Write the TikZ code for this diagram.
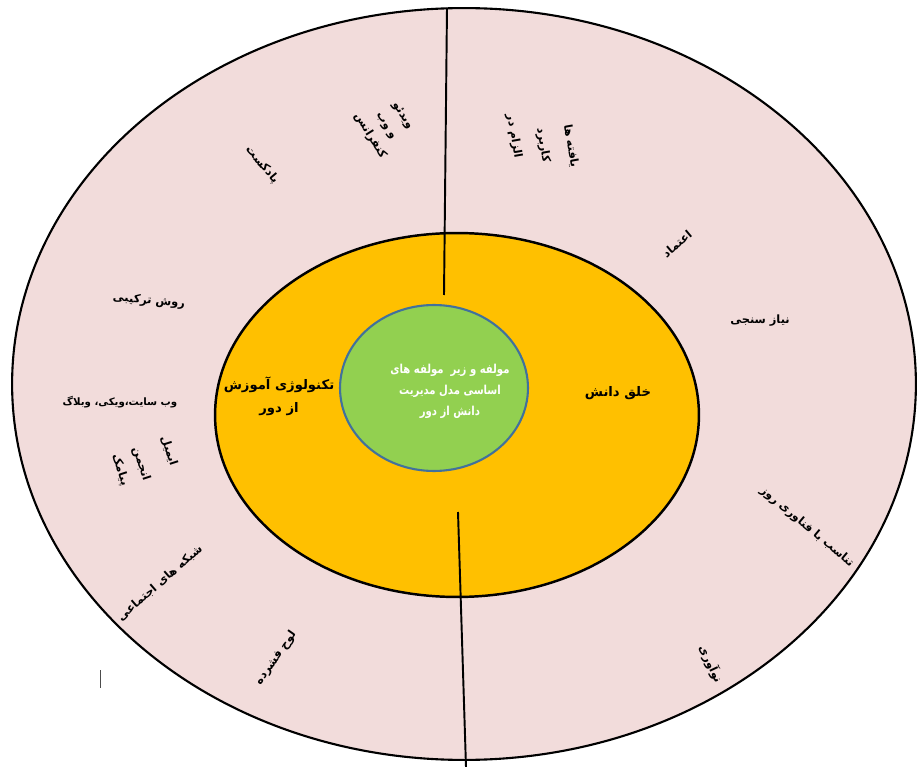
\documentclass[tikz,border=0pt]{standalone}
\usepackage{fontspec}
\usepackage{graphicx}
\usepackage{xcolor}
\usepackage{tikz}
\usetikzlibrary{shapes.geometric, positioning}
\TeXXeTstate=1
\newfontfamily\arabicfont[Script=Arabic]{DejaVu Sans}
\newcommand{\fa}[1]{{\arabicfont\beginR #1\endR}}
\newcommand{\fanarrow}[1]{\scalebox{0.82}[1]{\fa{#1}}}
\definecolor{ringpink}{HTML}{F2DCDB}
\definecolor{ringorange}{HTML}{FFC000}
\definecolor{coregreen}{HTML}{92D050}
\definecolor{coreblue}{HTML}{41719C}
\tikzset{
  % Rings
  ring/.style={ellipse, inner sep=0pt, draw=black, fill=#1},
  ring/.default={ringpink},
  % Labels
  midlbl/.style={font=\fontsize{7.5}{13}\selectfont\bfseries, align=center, text=black},
  corelbl/.style={font=\fontsize{7}{12}\selectfont\bfseries, align=center, text=white},
  toollbl/.style={font=\fontsize{6.5}{11}\selectfont\bfseries, align=center, text=black, inner sep=1pt},
  divider/.style={draw=black, line width=1.1pt},
}
\begin{document}
\begin{tikzpicture}[x=0.02cm, y=-0.02cm]
    \path[use as bounding box, fill=white] (0,0) rectangle (921,767);

    % Rings
    \node[ring, line width=1.2pt, minimum width=18.08cm, minimum height=15.04cm] (outer) at (464,384) {};
    \node[ring=ringorange, line width=1.4pt, minimum width=9.68cm, minimum height=7.28cm] (middle) at (457,415) {};
    \node[ring=coregreen, draw=coreblue, line width=1.2pt, minimum width=3.76cm, minimum height=3.32cm] (core) at (434,388) {};

    % Dividers
    \coordinate (topA) at (447,8);
    \coordinate (topB) at (444,295);
    \coordinate (botA) at (458,512);
    \coordinate (botB) at (466,767);
    \draw[divider] (topA) -- (topB);
    \draw[divider] (botA) -- (botB);

    % Core text
    \node[corelbl] (coretext) at (450,391) {\fanarrow{مولفه و زیر\ \ مولفه های}\\\fanarrow{اساسی مدل مدیریت}\\\fanarrow{دانش از دور}};

    % Middle ring
    \node[midlbl] (tech) at (279,396) {\fa{تکنولوژی آموزش}\\\fa{از دور}};
    \node[midlbl] (create) at (618,393) {\fa{خلق دانش}};

    % Left half tools
    \node[toollbl, rotate=-50] (podcast) at (262,165) {\fa{پادکست}};
    \node[toollbl, rotate=-58] (video) at (386,126) {\fa{ویدئو}\\\fa{و وب}\\\fa{کنفرانس}};
    \node[toollbl, rotate=-5] (blend) at (149,301) {\fa{روش ترکیبی}};
    \node[toollbl, font=\fontsize{5.8}{8}\selectfont\bfseries] (web) at (120,402) {\fa{وب سایت،ویکی، وبلاگ}};
    \node[toollbl, rotate=-72] (mail) at (169,451) {\fa{ایمیل}};
    \node[toollbl, rotate=-72] (forum) at (141,464) {\fa{انجمن}};
    \node[toollbl, rotate=-72] (sms) at (120,470) {\fa{پیامک}};
    \node[toollbl, rotate=41] (social) at (160,583) {\fa{شبکه های اجتماعی}};
    \node[toollbl, rotate=55] (cd) at (276,658) {\fa{لوح فشرده}};

    % Right half factors
    \node[toollbl, rotate=-80] (apply1) at (514,136) {\fa{الزام در}};
    \node[toollbl, rotate=-80] (apply2) at (543,145) {\fa{کاربرد}};
    \node[toollbl, rotate=-80] (apply3) at (571,146) {\fa{یافته ها}};
    \node[toollbl, rotate=40] (trust) at (677,244) {\fa{اعتماد}};
    \node[toollbl] (needs) at (760,321) {\fa{نیاز سنجی}};
    \node[toollbl, rotate=-40] (fit) at (807,527) {\fa{تناسب با فناوری روز}};
    \node[toollbl, rotate=-65] (innov) at (711,664) {\fa{نوآوری}};

    % Stray mark
    \coordinate (markA) at (100,670);
    \coordinate (markB) at (100,688);
    \draw[black!70, line width=0.5pt] (markA) -- (markB);
\end{tikzpicture}
\end{document}
